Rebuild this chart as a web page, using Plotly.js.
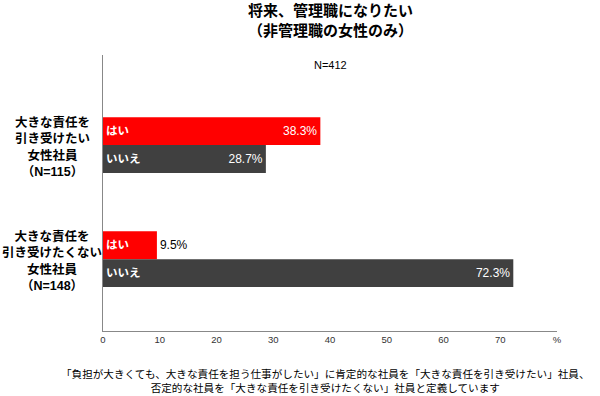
<!DOCTYPE html>
<html><head><meta charset="utf-8">
<script src="https://cdn.plot.ly/plotly-3.0.1.min.js"></script>
<style>body{margin:0;background:#fff}#c{width:600px;height:396px}</style>
</head><body><div id="c"></div>
<script>
const categories = ["大きな責任を<br>引き受けたい<br>女性社員<br>（N=115）", "大きな責任を<br>引き受けたくない<br>女性社員<br>（N=148）"];
const seriesNames = ["はい", "いいえ"];
const yesValues = [38.3, 9.5];
const noValues = [28.7, 72.3];
const tickVals = [0, 10, 20, 30, 40, 50, 60, 70, 80];
const tickText = ["0", "10", "20", "30", "40", "50", "60", "70", "%"];
const titleText = "<b>将来、管理職になりたい<br>（非管理職の女性のみ）</b>";
const nText = "N=412";
const noteText = "「負担が大きくても、大きな責任を担う仕事がしたい」に肯定的な社員を「大きな責任を引き受けたい」社員、<br>否定的な社員を「大きな責任を引き受けたくない」社員と定義しています";

const FONT = "Liberation Sans, Arial, 'Noto Sans CJK JP', sans-serif";
const colors = ["#FF0000", "#404040"];
const yIdx = categories.map((c, i) => i);
const bargap = 0.51;
const barW = (1 - bargap) / seriesNames.length;

const series = [yesValues, noValues];
const traces = series.map((vals, s) => ({
  type: "bar", orientation: "h", name: seriesNames[s],
  x: vals, y: yIdx,
  marker: {color: colors[s], line: {width: 0}},
  text: vals.map(v => v.toFixed(1) + "%"),
  textposition: vals.map(v => (s === 0 && v < 15) ? "outside" : "inside"),
  insidetextanchor: "end",
  insidetextfont: {color: "#fff", size: 12, family: FONT},
  outsidetextfont: {color: "#000", size: 12, family: FONT},
  cliponaxis: false, hoverinfo: "skip"
}));

const annotations = [];
categories.forEach((c, i) => {
  annotations.push({xref: "paper", yref: "y", x: -0.112, y: i, yshift: -2, text: "<b>" + c + "</b>",
    showarrow: false, xanchor: "center", yanchor: "middle", align: "center",
    font: {family: FONT, size: 12.5, color: "#000"}});
  seriesNames.forEach((n, s) => {
    annotations.push({xref: "x", yref: "y", x: 0, y: i + (s - (seriesNames.length - 1) / 2) * barW,
      text: "<b>" + n + "</b>", showarrow: false, xanchor: "left", yanchor: "middle", xshift: 1,
      font: {family: FONT, size: 11.5, color: "#fff"}});
  });
});
annotations.push({xref: "paper", yref: "paper", x: 0.5, y: 1, yshift: 14, text: titleText, showarrow: false,
  xanchor: "center", yanchor: "bottom", align: "center", font: {family: FONT, size: 15, color: "#000"}});
annotations.push({xref: "paper", yref: "paper", x: 0.5, y: 1, yshift: -2, text: nText, showarrow: false,
  xanchor: "center", yanchor: "top", font: {family: FONT, size: 11, color: "#000"}});
annotations.push({xref: "paper", yref: "paper", x: 0.49, y: 0, yshift: -35, text: noteText, showarrow: false,
  xanchor: "center", yanchor: "top", align: "center", font: {family: FONT, size: 10.6, color: "#000"}});

const layout = {
  width: 600, height: 396,
  margin: {l: 103, r: 43, t: 55, b: 65},
  paper_bgcolor: "#fff", plot_bgcolor: "#fff",
  showlegend: false,
  barmode: "group", bargap: bargap, bargroupgap: 0,
  xaxis: {range: [0, 80], tickvals: tickVals, ticktext: tickText, showgrid: false, zeroline: false,
    showline: true, linecolor: "#888", linewidth: 1, ticks: "", fixedrange: true,
    tickfont: {family: FONT, size: 9.5, color: "#333"}},
  yaxis: {range: [1.63, -0.79], showticklabels: false, showgrid: false, zeroline: false,
    showline: true, linecolor: "#888", linewidth: 1, ticks: ""},
  annotations: annotations,
  font: {family: FONT}
};
Plotly.newPlot("c", traces, layout, {displayModeBar: false, staticPlot: true});
</script></body></html>
